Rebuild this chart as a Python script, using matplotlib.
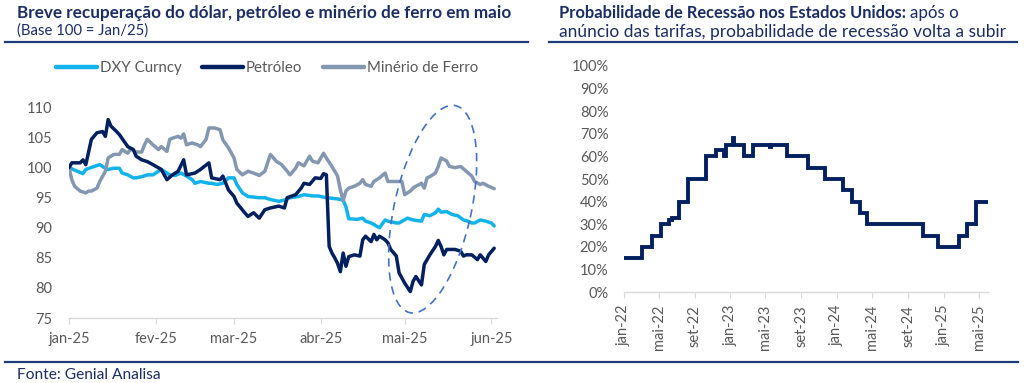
import matplotlib
matplotlib.use("Agg")
import matplotlib.pyplot as plt
import matplotlib.dates as mdates
from matplotlib.patches import Ellipse
from matplotlib.lines import Line2D
from matplotlib.transforms import IdentityTransform
import pandas as pd

# ---------------- data: left chart (Base 100 = Jan/25) ----------------
dxy_dates = ["01-01","01-04","01-06","01-07","01-10","01-12","01-14","01-15","01-17","01-19",
             "01-20","01-22","01-24","01-25","01-27","01-29","01-31","02-02","02-03","02-05",
             "02-06","02-08","02-10","02-12","02-14","02-15","02-17","02-20","02-21","02-23",
             "02-25","02-27","03-01","03-02","03-04","03-06","03-08","03-10","03-12","03-14",
             "03-17","03-19","03-21","03-24","03-26","03-29","03-31","04-02","04-05","04-07",
             "04-09","04-10","04-11","04-14","04-16","04-17","04-19","04-22","04-24","04-25",
             "04-28","04-29","05-02","05-04","05-07","05-08","05-10","05-12","05-13","05-14",
             "05-16","05-18","05-20","05-22","05-23","05-25","05-26","05-28","05-30","06-01",
             "06-02"]
dxy_values = [100.0, 99.4, 99.0, 99.7, 100.2, 100.5, 99.9, 99.7, 99.9, 99.9,
              99.1, 98.8, 98.3, 98.3, 98.5, 98.8, 98.8, 99.4, 99.7, 99.1,
              98.8, 98.7, 99.1, 98.6, 98.0, 97.4, 97.7, 97.4, 97.4, 97.2,
              97.4, 98.3, 98.3, 97.2, 95.8, 95.2, 95.1, 95.0, 95.0, 94.7,
              94.4, 94.6, 95.0, 95.2, 95.5, 95.3, 95.3, 95.1, 94.9, 94.8,
              94.6, 93.5, 91.5, 91.4, 91.6, 91.1, 90.8, 90.0, 91.3, 91.1,
              90.8, 90.8, 91.6, 91.3, 91.1, 92.2, 92.0, 92.5, 93.1, 92.6,
              92.7, 92.2, 92.0, 91.3, 91.2, 90.8, 90.8, 91.3, 91.1, 90.8,
              90.3]

petro_dates = ["01-01","01-02","01-05","01-06","01-07","01-09","01-11","01-13","01-14","01-15",
               "01-16","01-18","01-19","01-22","01-24","01-25","01-27","01-29","01-31","02-03",
               "02-05","02-07","02-09","02-11","02-12","02-15","02-17","02-20","02-21","02-24",
               "02-25","02-27","03-01","03-02","03-05","03-06","03-08","03-10","03-12","03-14",
               "03-17","03-19","03-20","03-23","03-25","03-26","03-28","03-30","04-01","04-02",
               "04-03","04-04","04-05","04-06","04-07","04-08","04-09","04-10","04-11","04-13",
               "04-15","04-16","04-17","04-19","04-20","04-21","04-22","04-24","04-25","04-26",
               "04-28","04-29","05-01","05-03","05-04","05-05","05-07","05-08","05-10","05-12",
               "05-13","05-14","05-15","05-16","05-19","05-21","05-22","05-23","05-25","05-27",
               "05-28","05-30","05-31","06-02"]
petro_values = [100.0, 100.8, 100.8, 101.3, 100.5, 104.7, 105.8, 106.0, 105.2, 108.0,
                106.9, 106.0, 105.5, 103.5, 103.0, 101.9, 101.3, 101.0, 100.5, 99.7,
                98.0, 98.8, 99.4, 101.3, 98.8, 99.1, 99.7, 100.8, 98.3, 98.0,
                98.6, 96.3, 95.2, 94.1, 92.4, 91.9, 92.5, 91.6, 93.0, 93.3,
                93.6, 93.3, 95.0, 95.5, 96.6, 97.4, 97.2, 98.3, 98.2, 99.0,
                98.8, 86.9, 85.8, 85.0, 84.1, 82.7, 85.8, 83.6, 85.2, 85.5,
                85.3, 88.0, 88.6, 87.7, 88.9, 88.0, 88.6, 88.0, 87.5, 86.4,
                85.3, 82.5, 80.8, 79.4, 81.1, 81.9, 80.5, 83.9, 85.5, 86.9,
                87.9, 86.9, 85.5, 86.4, 86.4, 86.1, 85.3, 85.5, 85.5, 84.7,
                85.5, 84.4, 85.5, 86.6]

minerio_dates = ["01-01","01-02","01-03","01-05","01-07","01-08","01-09","01-11","01-12","01-14",
                 "01-15","01-17","01-19","01-20","01-22","01-23","01-25","01-27","01-28","01-29",
                 "01-31","02-02","02-03","02-05","02-06","02-07","02-09","02-10","02-11","02-12",
                 "02-14","02-16","02-17","02-19","02-20","02-22","02-24","02-25","02-27","03-01",
                 "03-02","03-04","03-06","03-08","03-10","03-12","03-13","03-14","03-16","03-18",
                 "03-20","03-21","03-23","03-24","03-26","03-28","03-29","03-31","04-02","04-03",
                 "04-05","04-07","04-08","04-09","04-10","04-11","04-13","04-15","04-16","04-17",
                 "04-19","04-20","04-22","04-24","04-25","04-26","04-29","04-30","05-01","05-03",
                 "05-04","05-05","05-07","05-08","05-09","05-10","05-12","05-13","05-14","05-16",
                 "05-17","05-19","05-21","05-23","05-25","05-26","05-28","05-29","05-31","06-02"]
minerio_values = [100.0, 98.0, 96.9, 96.1, 95.8, 96.1, 96.1, 96.6, 97.7, 99.4,
                  101.6, 102.2, 102.2, 103.0, 102.4, 103.1, 102.6, 102.6, 103.8, 104.7,
                  103.8, 103.0, 103.5, 102.7, 104.7, 104.9, 105.2, 104.9, 105.6, 103.8,
                  104.1, 103.8, 103.5, 104.7, 106.6, 106.6, 106.3, 104.6, 103.3, 101.6,
                  99.7, 98.8, 99.4, 99.1, 98.7, 99.4, 100.8, 102.2, 101.1, 100.5,
                  99.4, 98.8, 99.9, 100.8, 100.3, 101.9, 101.1, 100.8, 102.4, 101.6,
                  100.2, 98.6, 96.3, 94.5, 96.1, 96.6, 96.9, 97.4, 98.0, 97.2,
                  96.9, 97.7, 98.3, 99.1, 97.7, 97.7, 97.7, 97.7, 95.5, 96.1,
                  96.6, 96.9, 97.4, 96.6, 98.3, 98.5, 99.1, 100.2, 101.6, 101.1,
                  100.2, 100.0, 100.2, 99.4, 98.6, 97.7, 97.2, 97.4, 96.9, 96.5]

left_series = ["DXY Curncy", "Petróleo", "Minério de Ferro"]
left_ticks = ["2025-01-01", "2025-02-01", "2025-03-01", "2025-04-01", "2025-05-01", "2025-06-01"]
left_ticklabels = ["jan-25", "fev-25", "mar-25", "abr-25", "mai-25", "jun-25"]
left_yticks = [75, 80, 85, 90, 95, 100, 105, 110]

# ---------------- data: right chart (recession probability, %) ----------------
rec_dates = ["2022-01-01", "2022-03-06", "2022-04-08", "2022-05-09", "2022-06-06", "2022-06-15",
             "2022-07-10", "2022-08-09", "2022-10-11", "2022-11-12", "2022-12-09", "2022-12-18",
             "2023-01-10", "2023-01-14", "2023-02-17", "2023-03-21", "2023-05-17", "2023-05-21",
             "2023-07-15", "2023-09-24", "2023-11-21", "2024-01-21", "2024-02-21", "2024-03-19",
             "2024-04-13", "2024-10-21", "2024-12-13", "2025-02-21", "2025-03-21", "2025-04-21",
             "2025-06-01"]
rec_values = [15, 20, 25, 30, 32, 33,
              40, 50, 60, 63, 60, 65,
              68, 65, 60, 65, 64, 65,
              60, 55, 50, 45, 40, 35,
              30, 25, 20, 25, 30, 40,
              40]
right_ticks = ["2022-01-01", "2022-05-01", "2022-09-01", "2023-01-01", "2023-05-01", "2023-09-01",
               "2024-01-01", "2024-05-01", "2024-09-01", "2025-01-01", "2025-05-01"]
right_ticklabels = ["jan-22", "mai-22", "set-22", "jan-23", "mai-23", "set-23",
                    "jan-24", "mai-24", "set-24", "jan-25", "mai-25"]
right_yticks = [0, 10, 20, 30, 40, 50, 60, 70, 80, 90, 100]

# ---------------- style ----------------
NAVY = "#002060"
TITLE = "#1b2d63"
RULE = "#1f3a78"
LIGHTBLUE = "#12b2ea"
GREYBLUE = "#8497b0"
TICK = "#595959"
AXIS = "#d9d9d9"
FONT = "Lato"
plt.rcParams["font.family"] = [FONT, "DejaVu Sans"]

W, H = 1024, 383
fig = plt.figure(figsize=(W / 100, H / 100), dpi=100)
fig.patch.set_facecolor("white")


def fx(px):
    return px / W


def fy(py):
    return 1 - py / H


def d(s):
    return pd.to_datetime("2025-" + s)


# ---------------- left chart ----------------
ax1 = fig.add_axes([fx(69), fy(318), fx(497) - fx(69), fy(107.5) - fy(318)])
series = [(dxy_dates, dxy_values, LIGHTBLUE),
          (petro_dates, petro_values, NAVY),
          (minerio_dates, minerio_values, GREYBLUE)]
handles = []
for (ds, vs, col), name in zip(series, left_series):
    (ln,) = ax1.plot([d(s) for s in ds], vs, color=col, lw=2.5,
                     solid_joinstyle="round", solid_capstyle="round", label=name)
    handles.append(ln)
handles[1].set_zorder(3)

ax1.set_xlim(pd.Timestamp("2025-01-01"), pd.Timestamp("2025-06-03"))
ax1.set_ylim(75, 110)
ax1.set_yticks(left_yticks)
ax1.set_xticks([pd.Timestamp(t) for t in left_ticks])
ax1.set_xticklabels(left_ticklabels)
for s in ["top", "right", "left"]:
    ax1.spines[s].set_visible(False)
ax1.spines["bottom"].set_color(AXIS)
ax1.spines["bottom"].set_linewidth(1.0)
ax1.tick_params(axis="y", length=0, pad=12, labelsize=10.5, labelcolor=TICK)
ax1.tick_params(axis="x", length=4, color=AXIS, pad=6, labelsize=10.5, labelcolor=TICK)

leg = fig.legend(handles=handles, loc="center left", bbox_to_anchor=(fx(56), fy(68)),
                 ncol=3, frameon=False, fontsize=10.8, handlelength=2.7,
                 handletextpad=0.2, columnspacing=1.4, borderaxespad=0, borderpad=0)
for t in leg.get_texts():
    t.set_color(TICK)
for lh in leg.get_lines():
    lh.set_linewidth(3.2)
    lh.set_solid_capstyle("round")

# dashed ellipse highlighting May
fig.canvas.draw()
cx, cy = ax1.transData.transform((mdates.date2num(pd.Timestamp("2025-05-11")), 93.1))
ell = Ellipse((cx, cy), width=212, height=77, angle=77.5, transform=IdentityTransform(),
              fill=False, ec="#4472c4", lw=1.2, ls=(0, (5, 3.5)), zorder=5)
fig.add_artist(ell)

# ---------------- right chart ----------------
ax2 = fig.add_axes([fx(623.7), fy(292.3), fx(988) - fx(623.7), fy(65.7) - fy(292.3)])
ax2.step([pd.Timestamp(s) for s in rec_dates], rec_values, where="post",
         color=NAVY, lw=2.8, solid_joinstyle="miter")
ax2.set_xlim(pd.Timestamp("2022-01-01"), pd.Timestamp("2025-06-01"))
ax2.set_ylim(0, 100)
ax2.set_yticks(right_yticks)
ax2.set_yticklabels([f"{v}%" for v in right_yticks])
ax2.set_xticks([pd.Timestamp(t) for t in right_ticks])
ax2.set_xticklabels(right_ticklabels, rotation=90, va="top", ha="center")
for s in ["top", "right", "left"]:
    ax2.spines[s].set_visible(False)
ax2.spines["bottom"].set_color(AXIS)
ax2.spines["bottom"].set_linewidth(1.0)
ax2.tick_params(axis="y", length=0, pad=11, labelsize=10.5, labelcolor=TICK)
ax2.tick_params(axis="x", length=4, color=AXIS, pad=5, labelsize=10.5, labelcolor=TICK)

# ---------------- titles, rules, source ----------------
fig.text(fx(17), fy(13), "Breve recuperação do dólar, petróleo e minério de ferro em maio",
         fontsize=12.3, fontweight="bold", color=TITLE, va="center", ha="left")
fig.text(fx(17), fy(31), "(Base 100 = Jan/25)", fontsize=10.7, color=TITLE,
         va="center", ha="left")

t1 = fig.text(fx(559), fy(13), "Probabilidade de Recessão nos Estados Unidos:",
              fontsize=11.9, fontweight="bold", color=TITLE, va="center", ha="left")
fig.canvas.draw()
bb = t1.get_window_extent()
fig.text((bb.x1 + 4) / W, fy(13), "após o", fontsize=12.2, color=TITLE,
         va="center", ha="left")
fig.text(fx(559), fy(32), "anúncio das tarifas, probabilidade de recessão volta a subir",
         fontsize=12.5, color=TITLE, va="center", ha="left")

for x0, x1, yy in [(5, 528, 42), (549, 1017, 42), (5, 1018, 362)]:
    fig.add_artist(Line2D([fx(x0), fx(x1)], [fy(yy), fy(yy)], color=RULE, lw=1.6))

fig.text(fx(17), fy(375), "Fonte: Genial Analisa", fontsize=11.2, color=TITLE,
         va="center", ha="left")

fig.savefig("out.png", dpi=100, facecolor="white")
